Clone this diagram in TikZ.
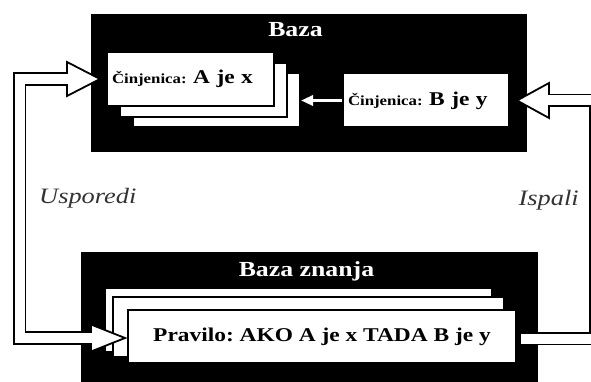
\documentclass[tikz,border=0pt]{standalone}
\usepackage{fontspec}
\setmainfont{Liberation Serif}[FakeStretch=1.2]
\usetikzlibrary{arrows.meta,calc}
\frenchspacing
\newcommand{\fact}[1]{\bfseries\fontsize{14}{17}\selectfont
  Činjenica:\fontsize{19.5}{22}\selectfont\spaceskip=6.5pt\ #1}

\begin{document}
\begin{tikzpicture}[
   x=1pt,y=-1pt,
   bazabox/.style={fill=black,inner sep=0pt},
   bazatitle/.style={text=white,inner sep=0pt,anchor=base,
     font=\bfseries\fontsize{21.5}{24}\selectfont},
   card/.style={draw,fill=white,line width=2pt,inner sep=0pt},
   factcard/.style={card,minimum height=54pt,text width=157pt,inner xsep=5pt,
     align=left},
   rulecard/.style={card,minimum width=388pt,minimum height=53pt,align=center,
     font=\bfseries\fontsize{19.5}{22}\selectfont},
   steplbl/.style={inner sep=0pt,anchor=base,text=black!80,
     font=\itshape\fontsize{22}{24}\selectfont},
   hollowline/.style={draw=black,double=white,double distance=10pt,
     line width=1.8pt},
   hollowhead/.style={draw=black,fill=white,line width=1.8pt,line join=miter},
   smallarrow/.style={draw=white,line width=3pt,
     -{Triangle[length=12pt,width=10pt]}}
 ]
 \useasboundingbox (0,0) rectangle (591,382);
 \clip (0,0) rectangle (591,382);
 \fill[white] (0,0) rectangle (591,382);
 % the two black bases
 \node[bazabox,minimum width=436pt,minimum height=138pt] (baza) at (309,83) {};
 \node[bazabox,minimum width=457pt,minimum height=148pt] (znanje) at (309.5,326) {};
 \node[bazatitle] (bazaT) at (295.5,37) {Baza};
 \node[bazatitle] (znanjeT) at (306.5,276) {Baza znanja};
 % stacked cards
 \node[card,minimum width=167pt,minimum height=54pt] (c3) at (216.5,100) {};
 \node[card,minimum width=167pt,minimum height=54pt] (c2) at (203.5,90) {};
 \node[factcard] (c1) at (190.5,79) {\fact{A je x}};
 \node[factcard,text width=156pt] (cB) at (426,100.5) {\fact{B je y}};
 \node[card,minimum width=387pt,minimum height=64pt] (r3) at (298.5,320) {};
 \node[card,minimum width=391pt,minimum height=60pt] (r2) at (308.5,327) {};
 \node[rulecard] (r1) at (322,336.5) {Pravilo: AKO A je x TADA B je y};
 \draw[smallarrow] (cB.west) -- (cB.west -| c3.east);
 \node[steplbl,anchor=base west] (usp) at (39,204) {Usporedi};
 \node[steplbl,anchor=base east] (isp) at (579,205) {Ispali};
 % hollow arrows: heads first, then the shafts
 \coordinate (ltip) at ($(c1.west)+(-6,0)$);
 \coordinate (lbtip) at ($(r1.west)+(-2,1.5)$);
 \coordinate (rtip) at ($(cB.east)+(7,0)$);
 \filldraw[hollowhead] (ltip) -- ++(-33,-17) -- ++(0,34) -- cycle;
 \filldraw[hollowhead] (lbtip) -- ++(-34,-13.5) -- ++(0,27) -- cycle;
 \filldraw[hollowhead] (rtip) -- ++(32,-17.5) -- ++(0,35) -- cycle;
 \draw[hollowline] ($(ltip)+(-32,0)$) -| ($(lbtip)+(-105.5,0)$)
   -- ($(lbtip)+(-33,0)$);
 \draw[hollowline] ($(r1.east)+(4,2)$) -| ($(rtip)+(78.5,0)$)
   -- ($(rtip)+(31,0)$);
\end{tikzpicture}
\end{document}
